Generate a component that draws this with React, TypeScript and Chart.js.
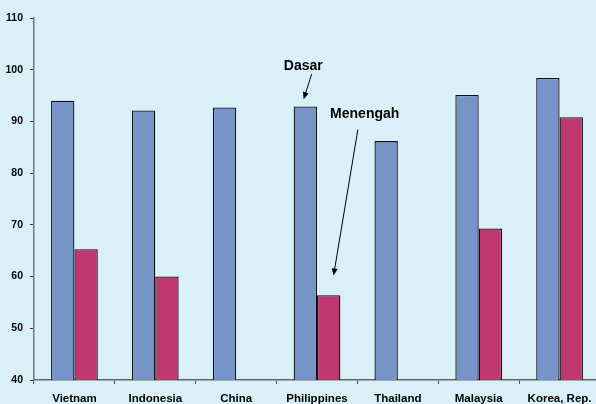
import React, { useEffect, useRef } from "react";
import { Chart, registerables } from "chart.js";

Chart.register(...registerables);

const categories = ["Vietnam", "Indonesia", "China", "Philippines", "Thailand", "Malaysia", "Korea, Rep."];
const dasar = [94.0, 92.1, 92.7, 92.9, 86.2, 95.1, 98.4];
const menengah: (number | null)[] = [65.3, 60.0, null, 56.4, null, 69.3, 90.8];
const yTicks = [40, 50, 60, 70, 80, 90, 100, 110];

// annotations: label text, anchored to a category index with fractional offset, and value positions
const annotations = [
  { text: "Dasar", cat: 3, textDx: -0.17, textY: 100.7, fromDx: -0.065, fromY: 99.2, toDx: -0.165, toY: 94.3 },
  { text: "Menengah", cat: 3, textDx: 0.59, textY: 91.4, fromDx: 0.505, fromY: 88.4, toDx: 0.205, toY: 60.2 },
];

const FONT = "'Liberation Sans', Arial, sans-serif";

const annotationPlugin = {
  id: "arrowLabels",
  afterDatasetsDraw(chart: any) {
    const { ctx, scales } = chart;
    const x = scales.x;
    const y = scales.y;
    const catW = x.getPixelForValue(1) - x.getPixelForValue(0);
    ctx.save();
    for (const a of annotations) {
      const cx = x.getPixelForValue(a.cat);
      const tx = cx + a.textDx * catW;
      const ty = y.getPixelForValue(a.textY);
      ctx.font = `bold 14px ${FONT}`;
      ctx.fillStyle = "#000";
      ctx.textAlign = "center";
      ctx.textBaseline = "middle";
      ctx.fillText(a.text, tx, ty);
      const x1 = cx + a.fromDx * catW;
      const y1 = y.getPixelForValue(a.fromY);
      const x2 = cx + a.toDx * catW;
      const y2 = y.getPixelForValue(a.toY);
      const ang = Math.atan2(y2 - y1, x2 - x1);
      const hl = 7;
      const hw = 3;
      ctx.strokeStyle = "#000";
      ctx.lineWidth = 1;
      ctx.beginPath();
      ctx.moveTo(x1, y1);
      ctx.lineTo(x2 - Math.cos(ang) * hl * 0.8, y2 - Math.sin(ang) * hl * 0.8);
      ctx.stroke();
      ctx.beginPath();
      ctx.moveTo(x2, y2);
      ctx.lineTo(x2 - Math.cos(ang) * hl + Math.sin(ang) * hw, y2 - Math.sin(ang) * hl - Math.cos(ang) * hw);
      ctx.lineTo(x2 - Math.cos(ang) * hl - Math.sin(ang) * hw, y2 - Math.sin(ang) * hl + Math.cos(ang) * hw);
      ctx.closePath();
      ctx.fill();
    }
    ctx.restore();
  },
};

export default function App() {
  const ref = useRef<HTMLCanvasElement>(null);
  useEffect(() => {
    if (!ref.current) return;
    const chart = new Chart(ref.current, {
      type: "bar",
      data: {
        labels: categories,
        datasets: [
          {
            label: "Dasar",
            data: dasar,
            backgroundColor: "#7694c8",
            borderColor: "#111",
            borderWidth: 1.3,
            inflateAmount: 0,
            barPercentage: 1,
            categoryPercentage: 0.578,
          },
          {
            label: "Menengah",
            data: menengah,
            backgroundColor: "#bf386f",
            borderColor: "#111",
            borderWidth: 1.3,
            inflateAmount: 0,
            barPercentage: 1,
            categoryPercentage: 0.578,
          },
        ],
      },
      options: {
        responsive: false,
        animation: false,
        devicePixelRatio: 1,
        layout: { padding: { top: 18, left: 0, right: 0, bottom: 0 } },
        plugins: { legend: { display: false }, tooltip: { enabled: false } },
        scales: {
          x: {
            offset: true,
            grid: {
              offset: true,
              drawOnChartArea: false,
              drawTicks: true,
              tickLength: 4,
              color: "#555",
            },
            border: { display: true, color: "#666", width: 1.5 },
            ticks: {
              color: "#000",
              font: { family: FONT, size: 11.5, weight: "bold" },
              padding: 8,
              maxRotation: 0,
              autoSkip: false,
            },
            afterFit(scale: any) {
              scale.height = 24;
            },
          },
          y: {
            min: 40,
            max: 110,
            afterBuildTicks(scale: any) {
              scale.ticks = yTicks.map((v) => ({ value: v }));
            },
            grid: {
              drawOnChartArea: false,
              drawTicks: true,
              tickLength: 4,
              color: "#333",
            },
            border: { display: true, color: "#777", width: 1.5 },
            ticks: {
              color: "#000",
              font: { family: FONT, size: 10.5, weight: "bold" },
              padding: 7,
            },
            afterFit(scale: any) {
              scale.width = 34;
            },
          },
        },
      },
      plugins: [annotationPlugin],
    });
    return () => chart.destroy();
  }, []);
  return (
    <div
      style={{
        position: "fixed",
        left: 0,
        top: 0,
        width: 596,
        height: 404,
        overflow: "hidden",
        background: "#d9f0f8",
      }}
    >
      <canvas ref={ref} width={600} height={404} style={{ display: "block" }} />
    </div>
  );
}
